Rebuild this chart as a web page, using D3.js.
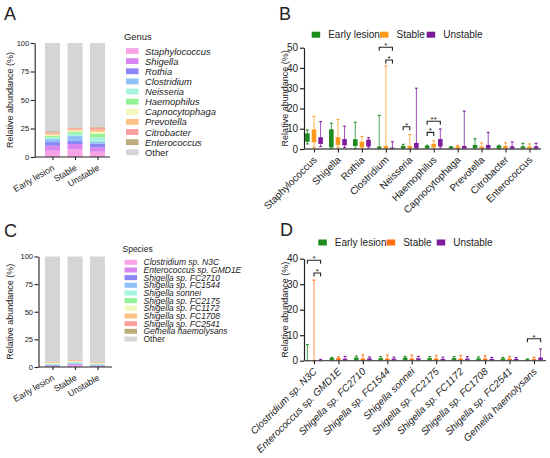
<!DOCTYPE html>
<html>
<head>
<meta charset="utf-8">
<script src="https://cdn.jsdelivr.net/npm/d3@7/dist/d3.min.js"></script>
<style>
html,body{margin:0;padding:0;background:#fff;}
svg{display:block;font-family:"Liberation Sans",Arial,sans-serif;}
</style>
</head>
<body>
<svg id="chart" width="550" height="458"></svg>
<script>
// ---------- DATA ----------
const groups = ["Early lesion", "Stable", "Unstable"];

// Panel A: genus mean relative abundance (%)
const genusNames = ["Staphylococcus","Shigella","Rothia","Clostridium","Neisseria","Haemophilus","Capnocytophaga","Prevotella","Citrobacter","Enterococcus"];
const genusEarly    = [5.5, 4.4, 3.2, 2.6, 1.5, 1.2, 1.1, 1.1, 1.0, 1.0];
const genusStable   = [6.7, 4.7, 2.6, 4.4, 2.0, 1.6, 1.2, 1.2, 0.9, 0.6];
const genusUnstable = [4.7, 3.8, 3.2, 1.5, 4.1, 2.9, 2.0, 1.8, 1.8, 0.9];

// Panel C: species mean relative abundance (%)
const speciesNames = ["Clostridium sp. N3C","Enterococcus sp. GMD1E","Shigella sp. FC2710","Shigella sp. FC1544","Shigella sonnei","Shigella sp. FC2175","Shigella sp. FC1172","Shigella sp. FC1708","Shigella sp. FC2541","Gemella haemolysans"];
const speciesEarly    = [0.4, 0.6, 0.6, 0.5, 0.5, 0.5, 0.5, 0.5, 0.4, 0.3];
const speciesStable   = [1.5, 0.8, 0.6, 0.6, 0.6, 0.6, 0.5, 0.6, 0.5, 0.3];
const speciesUnstable = [0.3, 0.6, 0.5, 0.5, 0.6, 0.5, 0.5, 0.5, 0.4, 0.1];

const stackColors = ["#f9a3e6","#d985ef","#8a86f5","#8fc1f7","#a8f3df","#93f293","#f2f8bb","#fdc283","#fc9f9f","#bcae7a"];
const otherColor = "#d5d5d5";

// Panel B: box plots per genus [min, q1, q3, max]
const boxGenusEarly = [[2.5,3.6,7.7,9.4],[0.3,0.8,9.7,12.7],[0.3,1.5,4.8,13.2],[0,0.2,1.2,16.6],[0,0.3,1.5,2.3],[0.2,0.5,1.5,1.8],[0,0.3,1.0,1.2],[0,0.5,2.0,5.1],[0,0.3,1.6,1.8],[0,0.5,1.3,2.8]];
const boxGenusStable = [[0.8,3.3,9.7,16.1],[0.8,2.0,5.8,14.6],[0.3,0.8,3.6,6.2],[0,0.2,1.5,41],[0,0.3,1.5,7.2],[0.3,0.8,2.5,4.1],[0,0.3,1.3,1.8],[0,0.3,1.2,3.0],[0,0.3,1.5,3.0],[0,0.3,1.2,2.5]];
const boxGenusUnstable = [[1.2,2.5,5.8,13.5],[0.7,1.8,4.9,11.2],[0.5,1.2,4.6,5.6],[0,0.1,0.7,3.6],[0,0.5,3.0,30],[0.3,1.2,4.9,9.9],[0,0.3,1.5,18.7],[0,0.3,2.0,8.2],[0,0.3,1.3,3.5],[0,0.3,1.3,2.8]];

// Panel D: box plots per species [min, q1, q3, max]
const boxSpeciesEarly = [[0,0.1,0.3,6.3],[0,0.3,1.0,1.3],[0,0.3,1.2,1.8],[0,0.3,1.0,1.6],[0,0.3,1.2,1.7],[0,0.3,1.0,1.6],[0,0.3,1.0,1.6],[0,0.3,0.9,1.5],[0,0.3,0.9,1.3],[0,0.2,0.5,0.7]];
const boxSpeciesStable = [[0,0.05,0.2,31.6],[0,0.3,1.0,1.5],[0,0.2,0.8,2.3],[0,0.2,0.8,2.2],[0,0.2,0.8,2.2],[0,0.2,0.8,2.0],[0,0.2,0.8,2.0],[0,0.2,0.8,1.9],[0,0.2,0.8,1.7],[0,0.2,0.6,1.3]];
const boxSpeciesUnstable = [[0,0.1,0.3,0.5],[0,0.3,0.8,1.7],[0,0.3,0.9,1.5],[0,0.3,0.8,1.4],[0,0.3,0.9,1.7],[0,0.3,0.7,1.4],[0,0.3,0.8,1.6],[0,0.2,0.7,1.3],[0,0.2,0.7,1.2],[0,0.3,1.2,4.6]];

// significance brackets: category, group indices, height (data units), label
const sigGenus = [
  {cat:"Clostridium", a:0, b:2, level:50.2, label:"*"},
  {cat:"Clostridium", a:1, b:2, level:43.9, label:"*"},
  {cat:"Neisseria", a:0, b:1, level:11.0, label:"*"},
  {cat:"Haemophilus", a:0, b:2, level:13.7, label:"**"},
  {cat:"Haemophilus", a:0, b:1, level:8.2, label:"*"}
];
const sigSpecies = [
  {cat:"Clostridium sp. N3C", a:0, b:2, level:39.4, label:"*"},
  {cat:"Clostridium sp. N3C", a:1, b:2, level:34.4, label:"*"},
  {cat:"Gemella haemolysans", a:0, b:2, level:8.6, label:"*"}
];

const yTicksA = [0, 25, 50, 75, 100];
const yTicksB = [0, 10, 20, 30, 40, 50];
const yTicksD = [0, 10, 20, 30, 40];

// ---------- DRAW ----------
const svg = d3.select("#chart");
svg.append("rect").attr("width",550).attr("height",458).attr("fill","#fff");
const ink = "#222";

function panelLabel(t, x, y){
  svg.append("text").attr("x",x).attr("y",y).attr("font-size",18).attr("fill",ink).text(t);
}
panelLabel("A", 4, 20);
panelLabel("B", 279, 20);
panelLabel("C", 4, 237);
panelLabel("D", 280, 236);

function yTitle(x, yc, size){
  svg.append("text").attr("transform",`translate(${x},${yc}) rotate(-90)`)
    .attr("text-anchor","middle").attr("dominant-baseline","central")
    .attr("font-size",size).attr("fill",ink).text("Relative abundance (%)");
}

// ----- stacked bar panel -----
function stackedPanel(cfg){
  const {names, values, axisX, xEnd, yTop, yBot, legendX, legendTitleY, rowY0, rowStep, legendTitle, legendFont, swH, titleX} = cfg;
  const rows = groups.map((g,i)=>{
    const o = {group:g};
    names.forEach((n,j)=>{ o[n] = values[i][j]; });
    o.Other = 100 - d3.sum(values[i]);
    return o;
  });
  const keys = names.concat(["Other"]);
  const colors = stackColors.concat([otherColor]);
  const stack = d3.stack().keys(keys)(rows);
  const x = d3.scalePoint().domain(groups).range([52.5, 97.5]);
  const y = d3.scaleLinear().domain([0,100]).range([yBot, yTop]);
  const bw = 15;
  const g = svg.append("g");
  g.selectAll("g.layer").data(stack).join("g")
    .attr("fill",(d,i)=>colors[i])
    .selectAll("rect").data(d=>d).join("rect")
    .attr("x",d=>x(d.data.group)-bw/2).attr("width",bw)
    .attr("y",d=>y(d[1])).attr("height",d=>y(d[0])-y(d[1]));
  // y axis
  const ya = g.append("g").attr("transform",`translate(${axisX},0)`)
    .call(d3.axisLeft(y).tickValues(yTicksA).tickSize(4).tickSizeOuter(0).tickPadding(1.5));
  ya.select(".domain").attr("stroke",ink).attr("stroke-width",1.1);
  ya.selectAll(".tick line").attr("stroke",ink).attr("stroke-width",1.1);
  ya.selectAll("text").attr("font-size",7.5).attr("fill",ink).attr("font-family","Liberation Sans, Arial, sans-serif");
  // x axis
  g.append("line").attr("x1",axisX).attr("x2",xEnd).attr("y1",yBot).attr("y2",yBot).attr("stroke",ink).attr("stroke-width",1.1);
  const xa = g.append("g").attr("transform",`translate(0,${yBot})`)
    .call(d3.axisBottom(x).tickSize(3).tickSizeOuter(0));
  xa.select(".domain").remove();
  xa.selectAll(".tick line").attr("stroke",ink).attr("stroke-width",1.1);
  xa.selectAll("text").remove();
  g.selectAll("text.xl").data(groups).join("text").attr("class","xl")
    .attr("transform",d=>`translate(${x(d)+1},${yBot+10}) rotate(-30)`)
    .attr("text-anchor","end").attr("dominant-baseline","central")
    .attr("font-size",8.8).attr("fill",ink).text(d=>d);
  yTitle(titleX, (yTop+yBot)/2, 9);
  // legend
  g.append("text").attr("x",legendX-2).attr("y",legendTitleY).attr("dominant-baseline","central")
    .attr("font-size",legendFont).attr("fill",ink).text(legendTitle);
  const lg = g.selectAll("g.leg").data(keys).join("g").attr("class","leg")
    .attr("transform",(d,i)=>`translate(${legendX},${rowY0+i*rowStep})`);
  lg.append("rect").attr("x",0).attr("y",-swH/2).attr("width",12.5).attr("height",swH).attr("fill",(d,i)=>colors[i]);
  lg.append("text").attr("x",19).attr("y",0).attr("dominant-baseline","central")
    .attr("font-size",legendFont).attr("fill",ink)
    .attr("font-style",d=>d==="Other"?"normal":"italic").text(d=>d);
}

stackedPanel({names:genusNames, values:[genusEarly,genusStable,genusUnstable],
  axisX:34.7, xEnd:110, yTop:43, yBot:157, legendX:126, legendTitleY:36, rowY0:51, rowStep:10.13,
  legendTitle:"Genus", legendFont:9.4, swH:5.8, titleX:10});
stackedPanel({names:speciesNames, values:[speciesEarly,speciesStable,speciesUnstable],
  axisX:38.5, xEnd:112, yTop:256.5, yBot:367, legendX:124.5, legendTitleY:249, rowY0:262.3, rowStep:7.67,
  legendTitle:"Species", legendFont:8.5, swH:5, titleX:10});

// ----- box plot panel -----
const boxColorsB = ["#1c8a1c","#ff9a1f","#7d1a9e"];
const boxColorsD = ["#1c8a1c","#ff6f12","#7d1a9e"];
const offsets = [-6.6, 0, 6.6];

function boxPanel(cfg){
  const {cats, data, colors, yMax, yTicks, yTop, yBot, axisX, xEnd, x0, x1, italicLabels, sig, legendPos, legendY} = cfg;
  const g = svg.append("g");
  const x = d3.scalePoint().domain(cats).range([x0, x1]);
  const y = d3.scaleLinear().domain([0,yMax]).range([yBot, yTop]);
  const bw = 4.6;
  groups.forEach((grp, gi)=>{
    const gg = g.append("g").attr("stroke",colors[gi]).attr("fill",colors[gi]);
    const recs = cats.map((c,ci)=>({c, v:data[gi][ci]}));
    const cx = d=>x(d.c)+offsets[gi];
    // whiskers
    gg.selectAll("line.w").data(recs).join("line").attr("class","w")
      .attr("x1",cx).attr("x2",cx).attr("y1",d=>y(d.v[0])).attr("y2",d=>y(d.v[3]))
      .attr("stroke-width",0.9).attr("stroke-opacity",0.85);
    // caps
    gg.selectAll("line.ct").data(recs).join("line").attr("class","ct")
      .attr("x1",d=>cx(d)-1.4).attr("x2",d=>cx(d)+1.4).attr("y1",d=>y(d.v[3])).attr("y2",d=>y(d.v[3]))
      .attr("stroke-width",1.1);
    gg.selectAll("line.cb").data(recs).join("line").attr("class","cb")
      .attr("x1",d=>cx(d)-1.4).attr("x2",d=>cx(d)+1.4).attr("y1",d=>y(d.v[0])).attr("y2",d=>y(d.v[0]))
      .attr("stroke-width",1.1);
    // boxes
    gg.selectAll("rect").data(recs).join("rect")
      .attr("x",d=>cx(d)-bw/2).attr("width",bw)
      .attr("y",d=>y(d.v[2])).attr("height",d=>Math.max(1.2, y(d.v[1])-y(d.v[2])))
      .attr("stroke","none");
  });
  // axes
  const ya = g.append("g").attr("transform",`translate(${axisX},0)`)
    .call(d3.axisLeft(y).tickValues(yTicks).tickSize(4).tickSizeOuter(0).tickPadding(2));
  ya.select(".domain").attr("stroke",ink).attr("stroke-width",1.2);
  ya.selectAll(".tick line").attr("stroke",ink).attr("stroke-width",1.2);
  ya.selectAll("text").attr("font-size",10).attr("fill",ink).attr("font-family","Liberation Sans, Arial, sans-serif");
  g.append("line").attr("x1",axisX).attr("x2",xEnd).attr("y1",yBot).attr("y2",yBot).attr("stroke","#555").attr("stroke-width",1.3);
  const xa = g.append("g").attr("transform",`translate(0,${yBot})`)
    .call(d3.axisBottom(x).tickSize(3.5).tickSizeOuter(0));
  xa.select(".domain").remove();
  xa.selectAll(".tick line").attr("stroke",ink).attr("stroke-width",1.1);
  xa.selectAll("text").remove();
  g.selectAll("text.xl").data(cats).join("text").attr("class","xl")
    .attr("transform",d=>`translate(${x(d)+1},${yBot+9}) rotate(-45)`)
    .attr("text-anchor","end").attr("dominant-baseline","central")
    .attr("font-size",10).attr("fill",ink)
    .attr("font-style",italicLabels?"italic":"normal").text(d=>d);
  yTitle(285, (yTop+yBot)/2, 9);
  // significance
  sig.forEach(s=>{
    const xa1 = x(s.cat)+offsets[s.a], xb1 = x(s.cat)+offsets[s.b], yy = y(s.level);
    g.append("path").attr("d",`M${xa1},${yy+3.5}V${yy}H${xb1}V${yy+3.5}`)
      .attr("fill","none").attr("stroke",ink).attr("stroke-width",1.1);
    g.append("text").attr("x",(xa1+xb1)/2).attr("y",yy+1).attr("text-anchor","middle")
      .attr("font-size",8).attr("fill",ink).text(s.label);
  });
  // legend
  groups.forEach((grp,gi)=>{
    const lx = legendPos[gi];
    g.append("rect").attr("x",lx).attr("y",legendY-3).attr("width",8.5).attr("height",6).attr("fill",colors[gi]);
    g.append("text").attr("x",lx+16.5).attr("y",legendY).attr("dominant-baseline","central")
      .attr("font-size",10).attr("fill",ink).text(grp);
  });
}

boxPanel({cats:genusNames, data:[boxGenusEarly,boxGenusStable,boxGenusUnstable], colors:boxColorsB,
  yMax:50, yTicks:yTicksB, yTop:47.7, yBot:149, axisX:304, xEnd:541, x0:314, x1:529.5,
  italicLabels:false, sig:sigGenus, legendPos:[311.7, 380, 426.7], legendY:34.7});
boxPanel({cats:speciesNames, data:[boxSpeciesEarly,boxSpeciesStable,boxSpeciesUnstable], colors:boxColorsD,
  yMax:40, yTicks:yTicksD, yTop:258.7, yBot:360.7, axisX:304, xEnd:546, x0:314, x1:534,
  italicLabels:true, sig:sigSpecies, legendPos:[318.3, 386.7, 436.7], legendY:242.5});
</script>
</body>
</html>
